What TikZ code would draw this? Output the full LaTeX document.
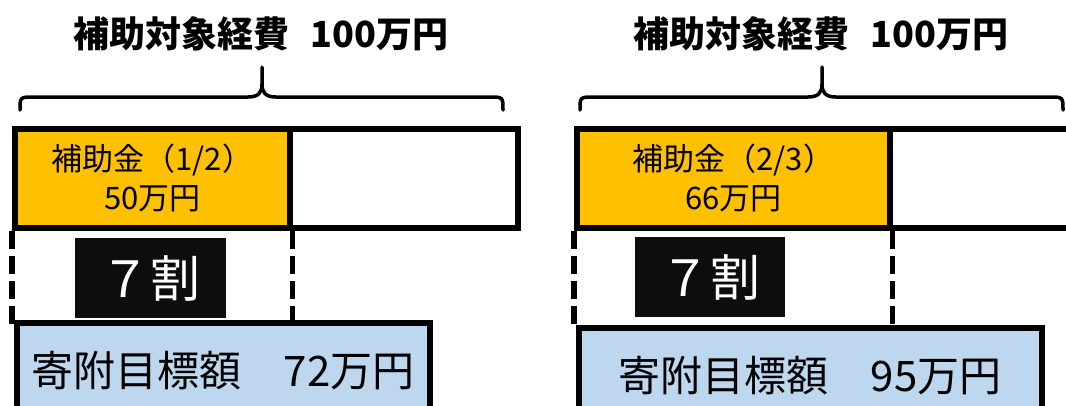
\documentclass[tikz,border=0pt]{standalone}
\usepackage{fontspec}
\newfontfamily\cjk{Noto Sans CJK JP}
\newfontfamily\cjkfuto{Noto Sans CJK JP Black}
\usetikzlibrary{positioning}
\definecolor{hojo}{HTML}{FFC000}
\definecolor{kifu}{HTML}{BDD7EE}
\definecolor{sumi}{HTML}{0D0D0D}

\begin{document}
\begin{tikzpicture}[x=1pt,y=-1pt,
	waku/.style={draw,line width=5.5pt,rectangle,inner sep=0pt,anchor=north west},
	hojobox/.style={waku,fill=hojo,minimum height=99pt,align=center,
		font=\cjk\fontsize{31}{39}\selectfont},
	nokori/.style={waku,fill=white,minimum height=99pt},
	wari/.style={rectangle,fill=sumi,text=white,inner sep=0pt,
		minimum height=80pt,font=\cjk\fontsize{50}{50}\selectfont},
	kifubox/.style={waku,fill=kifu,minimum height=96pt,
		font=\cjk\fontsize{42}{42}\selectfont},
	tensen/.style={line width=5.5pt,dash pattern=on 18pt off 7pt},
	kakko/.style={line width=3.5pt,line cap=round},
	midashi/.style={font=\cjkfuto\fontsize{36}{36}\selectfont}]

	\clip (0,0) rectangle (1066,405);

	% titles and braces
	\foreach \dx/\s in {0/L,560/R} {
		\node[midashi] (title\s) at (261+\dx,34) {補助対象経費\hspace{0.6em}100万円};
		\begin{scope}[xshift=\dx pt]
			\draw[kakko] (20,110) .. controls (20,97) .. (34,97) -- (248,97)
				.. controls (259,97) and (262,92) .. (262,84) -- (262,67)
				(262,84) .. controls (262,92) and (265,97) .. (276,97) -- (489,97)
				.. controls (503,97) .. (503,110);
		\end{scope}
	}

	% left: 1/2
	\node[nokori,minimum width=228pt] (restL) at (287,126) {};
	\node[hojobox,minimum width=275pt] (subL) at (12,126) {補助金（1/2）\\50万円};
	\draw[tensen] (subL.south west) -- ++(0,95);
	\draw[tensen] (subL.south east) -- ++(0,95);
	\node[wari,minimum width=151pt] (rateL) at (150.5,278) {７割};
	\node[kifubox,minimum width=413pt] (goalL) at (14,320) {寄附目標額　72万円};

	% right: 2/3
	\node[nokori,minimum width=200pt] (restR) at (887,126) {};
	\node[hojobox,minimum width=313pt] (subR) at (574,126) {補助金（2/3）\\66万円};
	\draw[tensen] (subR.south west) -- ++(0,100);
	\draw[tensen] (subR.south east) -- ++(0,100);
	\node[wari,minimum width=150pt] (rateR) at (710,277) {７割};
	\node[kifubox,minimum width=463pt] (goalR) at (576,325) {寄附目標額　95万円};
\end{tikzpicture}
\end{document}
